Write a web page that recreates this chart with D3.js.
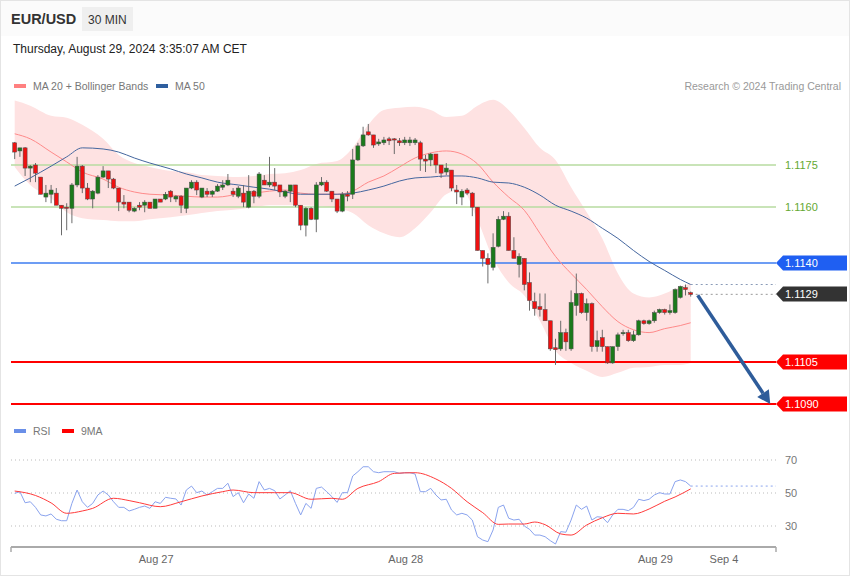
<!DOCTYPE html>
<html><head><meta charset="utf-8">
<script src="https://cdn.jsdelivr.net/npm/d3@7"></script>
<style>body{margin:0;background:#fff}svg{display:block;font-family:"Liberation Sans",Arial,sans-serif}</style>
</head><body><svg id="c" width="850" height="576"></svg>
<script>
const open=[1.11829,1.11800,1.11811,1.11739,1.11750,1.11707,1.11636,1.11646,1.11650,1.11607,
1.11600,1.11596,1.11679,1.11746,1.11668,1.11629,1.11650,1.11707,1.11729,1.11700,
1.11668,1.11618,1.11618,1.11586,1.11607,1.11607,1.11618,1.11596,1.11629,1.11629,
1.11657,1.11629,1.11639,1.11596,1.11668,1.11689,1.11636,1.11657,1.11646,1.11657,
1.11671,1.11679,1.11657,1.11639,1.11650,1.11600,1.11657,1.11639,1.11696,1.11679,
1.11689,1.11679,1.11639,1.11657,1.11679,1.11607,1.11536,1.11596,1.11557,1.11679,
1.11689,1.11657,1.11629,1.11586,1.11646,1.11646,1.11768,1.11818,1.11868,1.11857,
1.11825,1.11829,1.11843,1.11843,1.11836,1.11829,1.11829,1.11829,1.11829,1.11771,
1.11768,1.11789,1.11750,1.11725,1.11732,1.11661,1.11636,1.11661,1.11650,1.11600,
1.11446,1.11418,1.11386,1.11461,1.11557,1.11568,1.11446,1.11396,1.11418,1.11332,
1.11264,1.11246,1.11236,1.11196,1.11100,1.11096,1.11154,1.11096,1.11250,1.11293,
1.11225,1.11257,1.11104,1.11136,1.11104,1.11046,1.11104,1.11150,1.11154,1.11125,
1.11146,1.11196,1.11186,1.11196,1.11225,1.11236,1.11225,1.11225,1.11279,1.11314,
1.11296];
const high=[1.11832,1.11811,1.11814,1.11750,1.11757,1.11707,1.11679,1.11679,1.11668,1.11607,
1.11614,1.11686,1.11779,1.11750,1.11686,1.11661,1.11714,1.11746,1.11729,1.11704,
1.11668,1.11643,1.11618,1.11600,1.11618,1.11625,1.11618,1.11629,1.11629,1.11654,
1.11661,1.11643,1.11643,1.11668,1.11696,1.11696,1.11668,1.11668,1.11661,1.11682,
1.11696,1.11718,1.11668,1.11675,1.11679,1.11714,1.11661,1.11725,1.11714,1.11779,
1.11739,1.11679,1.11661,1.11679,1.11679,1.11607,1.11600,1.11600,1.11689,1.11707,
1.11696,1.11657,1.11629,1.11654,1.11657,1.11807,1.11829,1.11886,1.11896,1.11857,
1.11843,1.11850,1.11850,1.11846,1.11846,1.11850,1.11850,1.11846,1.11836,1.11786,
1.11793,1.11789,1.11750,1.11757,1.11732,1.11679,1.11664,1.11668,1.11654,1.11600,
1.11446,1.11436,1.11507,1.11568,1.11586,1.11582,1.11493,1.11436,1.11418,1.11368,
1.11296,1.11293,1.11293,1.11196,1.11132,1.11196,1.11168,1.11304,1.11364,1.11296,
1.11275,1.11261,1.11161,1.11164,1.11104,1.11104,1.11154,1.11164,1.11164,1.11161,
1.11200,1.11200,1.11200,1.11232,1.11239,1.11239,1.11254,1.11311,1.11321,1.11325,
1.11300];
const low=[1.11771,1.11779,1.11711,1.11689,1.11689,1.11646,1.11618,1.11614,1.11607,1.11500,
1.11518,1.11543,1.11671,1.11650,1.11625,1.11596,1.11646,1.11704,1.11668,1.11664,
1.11586,1.11596,1.11582,1.11582,1.11589,1.11582,1.11596,1.11596,1.11618,1.11625,
1.11618,1.11618,1.11579,1.11579,1.11664,1.11643,1.11632,1.11636,1.11636,1.11654,
1.11661,1.11675,1.11636,1.11632,1.11600,1.11596,1.11614,1.11632,1.11679,1.11671,
1.11661,1.11636,1.11632,1.11618,1.11600,1.11518,1.11496,1.11554,1.11511,1.11675,
1.11654,1.11618,1.11579,1.11582,1.11621,1.11629,1.11764,1.11814,1.11854,1.11811,
1.11818,1.11821,1.11821,1.11789,1.11818,1.11821,1.11818,1.11821,1.11729,1.11725,
1.11746,1.11721,1.11704,1.11714,1.11657,1.11611,1.11607,1.11643,1.11568,1.11446,
1.11389,1.11329,1.11375,1.11457,1.11554,1.11446,1.11418,1.11350,1.11304,1.11232,
1.11214,1.11211,1.11196,1.11089,1.11039,1.11089,1.11089,1.11089,1.11214,1.11221,
1.11196,1.11086,1.11086,1.11086,1.11043,1.11043,1.11089,1.11143,1.11121,1.11121,
1.11143,1.11182,1.11182,1.11189,1.11221,1.11218,1.11218,1.11221,1.11275,1.11286,
1.11282];
const close=[1.11796,1.11811,1.11739,1.11746,1.11721,1.11646,1.11650,1.11661,1.11607,1.11596,
1.11596,1.11679,1.11746,1.11668,1.11629,1.11657,1.11707,1.11729,1.11700,1.11668,
1.11618,1.11611,1.11589,1.11596,1.11600,1.11618,1.11596,1.11629,1.11618,1.11646,
1.11636,1.11639,1.11607,1.11668,1.11689,1.11661,1.11668,1.11646,1.11657,1.11675,
1.11679,1.11696,1.11646,1.11668,1.11618,1.11657,1.11639,1.11718,1.11679,1.11689,
1.11675,1.11654,1.11657,1.11679,1.11607,1.11536,1.11596,1.11557,1.11679,1.11689,
1.11657,1.11629,1.11586,1.11646,1.11639,1.11768,1.11818,1.11857,1.11857,1.11821,
1.11832,1.11839,1.11836,1.11839,1.11829,1.11839,1.11839,1.11839,1.11771,1.11764,
1.11789,1.11750,1.11721,1.11739,1.11668,1.11654,1.11657,1.11650,1.11600,1.11446,
1.11418,1.11396,1.11457,1.11557,1.11568,1.11446,1.11418,1.11425,1.11325,1.11268,
1.11239,1.11236,1.11196,1.11096,1.11093,1.11154,1.11121,1.11261,1.11293,1.11225,
1.11257,1.11104,1.11125,1.11104,1.11046,1.11104,1.11146,1.11154,1.11125,1.11146,
1.11196,1.11186,1.11196,1.11225,1.11236,1.11225,1.11232,1.11307,1.11318,1.11307,
1.11290];

const maIdx=[0,3,7,10,13,17,20,23,26,30,33,36,39,43,46,49,52,55,58,62,65,68,71,74,77,80,83,86,89,92,95,98,101,104,107,110,113,116,119,122,125,128,130];
const ma20=[1.11861,1.11843,1.11796,1.11761,1.11725,1.11700,1.11671,1.11654,1.11646,1.11643,1.11639,1.11636,1.11636,1.11646,1.11650,1.11657,1.11661,1.11650,1.11646,1.11646,1.11657,1.11689,1.11711,1.11743,1.11775,1.11793,1.11800,1.11789,1.11754,1.11689,1.11636,1.11589,1.11507,1.11425,1.11364,1.11307,1.11246,1.11193,1.11164,1.11154,1.11168,1.11179,1.11189];
const bbUpper=[1.11979,1.11961,1.11925,1.11918,1.11893,1.11843,1.11786,1.11757,1.11743,1.11729,1.11725,1.11714,1.11711,1.11707,1.11711,1.11718,1.11721,1.11732,1.11754,1.11764,1.11811,1.11893,1.11946,1.11954,1.11957,1.11946,1.11921,1.11925,1.11961,1.11982,1.11946,1.11882,1.11811,1.11768,1.11671,1.11582,1.11489,1.11364,1.11293,1.11279,1.11293,1.11318,1.11329];
const bbLower=[1.11743,1.11679,1.11632,1.11582,1.11561,1.11554,1.11550,1.11550,1.11557,1.11564,1.11571,1.11579,1.11586,1.11593,1.11600,1.11607,1.11607,1.11607,1.11604,1.11596,1.11579,1.11536,1.11507,1.11493,1.11525,1.11582,1.11646,1.11661,1.11554,1.11418,1.11332,1.11286,1.11196,1.11089,1.11046,1.11018,1.10996,1.11011,1.11029,1.11032,1.11039,1.11039,1.11046];
const ma50=[1.11675,1.11704,1.11746,1.11779,1.11811,1.11807,1.11796,1.11775,1.11757,1.11736,1.11718,1.11704,1.11689,1.11679,1.11671,1.11664,1.11654,1.11646,1.11646,1.11646,1.11650,1.11661,1.11675,1.11693,1.11704,1.11707,1.11711,1.11711,1.11704,1.11689,1.11686,1.11671,1.11643,1.11607,1.11586,1.11561,1.11525,1.11489,1.11446,1.11407,1.11375,1.11343,1.11325];

const rsi=[49.8,50.8,44.1,44.7,41.3,36.7,36.1,37.3,34.1,33.2,
33.2,43.7,51.8,44.7,41.3,43.7,48.8,51.2,48.8,44.7,
41.3,41.3,39.1,40.1,41.3,42.1,40.7,44.7,43.7,47.4,
46.8,46.4,42.7,51.8,54.2,50.2,51.2,48.8,50.8,52.8,
52.8,55.9,47.8,50.2,44.1,49.4,46.8,56.9,51.8,52.8,
51.4,46.4,48.8,51.4,43.7,36.7,43.7,40.7,52.8,53.6,
50.8,47.8,44.3,50.2,50.2,60.3,62.9,65.9,65.9,62.9,
62.3,62.9,62.9,62.9,61.9,62.3,62.3,61.5,50.8,50.8,
52.8,48.8,45.8,46.2,39.7,36.7,37.7,36.7,33.6,23.5,
21.5,20.5,27.6,41.3,42.7,34.7,33.6,34.1,30.0,28.0,
24.5,24.5,23.5,21.1,19.1,26.6,26.2,33.6,42.7,40.1,
42.1,33.6,35.6,35.3,32.0,36.7,40.1,40.1,39.3,41.3,
46.2,45.4,46.2,48.8,50.2,49.4,49.4,56.9,57.9,56.9,
54.2];
const ma9Idx=[0,4,7,10,13,15,19,22,24,28,32,36,40,42,46,50,53,57,61,63,66,70,73,77,81,84,87,90,93,95,98,100,102,105,107,110,113,116,119,122,125,127,130];
const ma9=[51.2,48.5,44.0,37.7,39.1,40.7,46.8,45.4,44.1,41.7,44.7,48.2,50.8,51.8,50.2,50.2,50.2,46.2,46.8,46.2,52.8,56.9,61.9,62.3,58.5,52.8,44.7,38.1,31.0,31.2,31.2,32.4,30.8,25.2,24.5,30.6,35.0,37.7,37.3,40.3,45.0,47.6,52.5];

const levels=[1.1175,1.1160,1.1140,1.1105,1.1090];
const levelLabels=["1.1175","1.1160","1.1140","1.1105","1.1090"];
const rsiTicks=[70,50,30];
const dayLabels=["Aug 27","Aug 28","Aug 29","Sep 4"];
const dayIdx=[27.2,75.2,123.2,136.4];

const svg=d3.select("#c");
const N=open.length;
const x=d3.scaleLinear().domain([0,130]).range([14.7,690.7]);
const y=d3.scaleLinear().domain([1.1090,1.1175]).range([404,165]);
const yr=d3.scaleLinear().domain([30,70]).range([526,460]);
const L=11,R=776;

// frame & header
svg.append("rect").attr("x",0.5).attr("y",0.5).attr("width",849).attr("height",575).attr("fill","#fff").attr("stroke","#e4e4e4");
svg.append("rect").attr("x",1).attr("y",1).attr("width",848).attr("height",35).attr("fill","#fbfbfb");
svg.append("text").attr("x",11).attr("y",24).attr("font-size",14.5).attr("font-weight","bold").attr("fill","#333").text("EUR/USD");
svg.append("rect").attr("x",82).attr("y",7).attr("width",51).attr("height",24).attr("fill","#efefef");
svg.append("text").attr("x",88).attr("y",23.5).attr("font-size",12).attr("fill","#333").text("30 MIN");
svg.append("text").attr("x",13).attr("y",53).attr("font-size",12).attr("fill","#222").text("Thursday, August 29, 2024 3:35:07 AM CET");

// legends
function legend(x0,yy,col,txt){
  svg.append("rect").attr("x",x0).attr("y",yy-2).attr("width",12).attr("height",4).attr("fill",col);
  svg.append("text").attr("x",x0+19).attr("y",yy+4).attr("font-size",10.5).attr("fill","#777").text(txt);
}
legend(14,86,"#ff8080","MA 20 + Bollinger Bands");
legend(156,86,"#2f5f9f","MA 50");
svg.append("text").attr("x",841).attr("y",90).attr("text-anchor","end").attr("font-size",10.5).attr("fill","#999").text("Research \u00a9 2024 Trading Central");
legend(14,431,"#6a8fe8","RSI");
legend(62,431,"#ff0000","9MA");

// bollinger band
const bandData=maIdx.map((d,k)=>({i:d,u:bbUpper[k],l:bbLower[k],m:ma20[k],m50:ma50[k]}));
svg.append("path").datum(bandData).attr("fill","#fee2e2")
  .attr("d",d3.area().x(d=>x(d.i)).y0(d=>y(d.l)).y1(d=>y(d.u)).curve(d3.curveMonotoneX));

// levels
const lvlStyle=[
 {c:"#b7dba0",w:1.3,tag:null,tc:"#64a832"},
 {c:"#b7dba0",w:1.3,tag:null,tc:"#64a832"},
 {c:"#3d7cf0",w:1.3,tag:"#1f5ff2"},
 {c:"#ff0000",w:2,tag:"#ff0000"},
 {c:"#ff0000",w:2,tag:"#ff0000"}];
function tag(yy,fill,txt){
  svg.append("path").attr("d",`M${R},${yy} L${R+7},${yy-7.5} L847,${yy-7.5} L847,${yy+7.5} L${R+7},${yy+7.5} Z`).attr("fill",fill);
  svg.append("text").attr("x",785).attr("y",yy+4).attr("font-size",11).attr("fill","#fff").text(txt);
}
levels.forEach((v,k)=>{
  const s=lvlStyle[k], yy=Math.round(y(v));
  svg.append("line").attr("x1",L).attr("x2",R).attr("y1",yy).attr("y2",yy).attr("stroke",s.c).attr("stroke-width",s.w);
  if(s.tag) tag(yy,s.tag,levelLabels[k]);
  else svg.append("text").attr("x",785).attr("y",yy+4).attr("font-size",11).attr("fill",s.tc).text(levelLabels[k]);
});

// MA lines
svg.append("path").datum(bandData).attr("fill","none").attr("stroke","#ff8a8a").attr("stroke-width",1)
  .attr("d",d3.line().x(d=>x(d.i)).y(d=>y(d.m)).curve(d3.curveMonotoneX));
svg.append("path").datum(bandData).attr("fill","none").attr("stroke","#45679f").attr("stroke-width",1)
  .attr("d",d3.line().x(d=>x(d.i)).y(d=>y(d.m50)).curve(d3.curveMonotoneX));

// dotted extensions
const lastMa50=ma50[ma50.length-1], lastClose=close[N-1];
svg.append("line").attr("x1",x(130)).attr("x2",R).attr("y1",y(lastMa50)).attr("y2",y(lastMa50)).attr("stroke","#8a9bb8").attr("stroke-dasharray","2,3");
svg.append("line").attr("x1",x(130)).attr("x2",R).attr("y1",y(lastClose)).attr("y2",y(lastClose)).attr("stroke","#999").attr("stroke-dasharray","2,3");
tag(Math.round(y(lastClose)),"#333",d3.format(".4f")(lastClose));

// candles
const cd=d3.range(N).map(i=>({i,o:open[i],h:high[i],l:low[i],c:close[i]}));
const g=svg.append("g");
g.selectAll("line.w").data(cd).join("line").attr("class","w")
  .attr("x1",d=>x(d.i)).attr("x2",d=>x(d.i)).attr("y1",d=>y(d.h)).attr("y2",d=>y(d.l)).attr("stroke","#6b6b6b").attr("stroke-width",1);
g.selectAll("rect").data(cd).join("rect")
  .attr("x",d=>x(d.i)-2).attr("width",4)
  .attr("y",d=>Math.min(y(d.o),y(d.c))).attr("height",d=>Math.max(1.2,Math.abs(y(d.o)-y(d.c))))
  .attr("fill",d=>d.c>=d.o?"#1b7a1b":"#ee1111").attr("stroke","#4a4a4a").attr("stroke-width",0.5);

// forecast arrow
const ax1=x(130)+7, ay1=y(lastClose)+1, ax2=x(145.3), ay2=y(1.1090);
const ang=Math.atan2(ay2-ay1,ax2-ax1);
const hx=ax2-13*Math.cos(ang), hy=ay2-13*Math.sin(ang);
svg.append("line").attr("x1",ax1).attr("y1",ay1).attr("x2",hx).attr("y2",hy).attr("stroke","#2e5c9a").attr("stroke-width",3.5);
const px=-Math.sin(ang)*7, py=Math.cos(ang)*7;
svg.append("path").attr("d",`M${ax2},${ay2} L${hx+px},${hy+py} L${hx-px},${hy-py} Z`).attr("fill","#2e5c9a");

// RSI panel
rsiTicks.forEach(t=>{
  svg.append("line").attr("x1",L).attr("x2",R).attr("y1",yr(t)).attr("y2",yr(t)).attr("stroke","#bbb").attr("stroke-dasharray","1,3");
  svg.append("text").attr("x",785).attr("y",yr(t)+4).attr("font-size",11).attr("fill","#777").text(t);
});
svg.append("path").datum(rsi).attr("fill","none").attr("stroke","#8aa3ee").attr("stroke-width",1)
  .attr("d",d3.line().x((d,i)=>x(i)).y(d=>yr(d)));
svg.append("line").attr("x1",x(130)).attr("x2",R).attr("y1",yr(rsi[N-1])).attr("y2",yr(rsi[N-1])).attr("stroke","#8aa3ee").attr("stroke-dasharray","2,3");
svg.append("path").datum(ma9Idx.map((d,k)=>[d,ma9[k]])).attr("fill","none").attr("stroke","#ff3b3b").attr("stroke-width",1)
  .attr("d",d3.line().x(d=>x(d[0])).y(d=>yr(d[1])).curve(d3.curveMonotoneX));

// x axis
const ax=svg.append("g").attr("transform","translate(0,547)");
ax.append("line").attr("x1",L).attr("x2",R).attr("stroke","#aaa").attr("stroke-width",2);
ax.append("line").attr("x1",L).attr("x2",L).attr("y1",0).attr("y2",5).attr("stroke","#aaa").attr("stroke-width",1.5);
ax.append("line").attr("x1",R).attr("x2",R).attr("y1",0).attr("y2",5).attr("stroke","#aaa").attr("stroke-width",1.5);
dayLabels.forEach((t,k)=>{
  ax.append("text").attr("x",x(dayIdx[k])).attr("y",16).attr("text-anchor","middle").attr("font-size",11).attr("fill","#666").text(t);
});
</script></body></html>
